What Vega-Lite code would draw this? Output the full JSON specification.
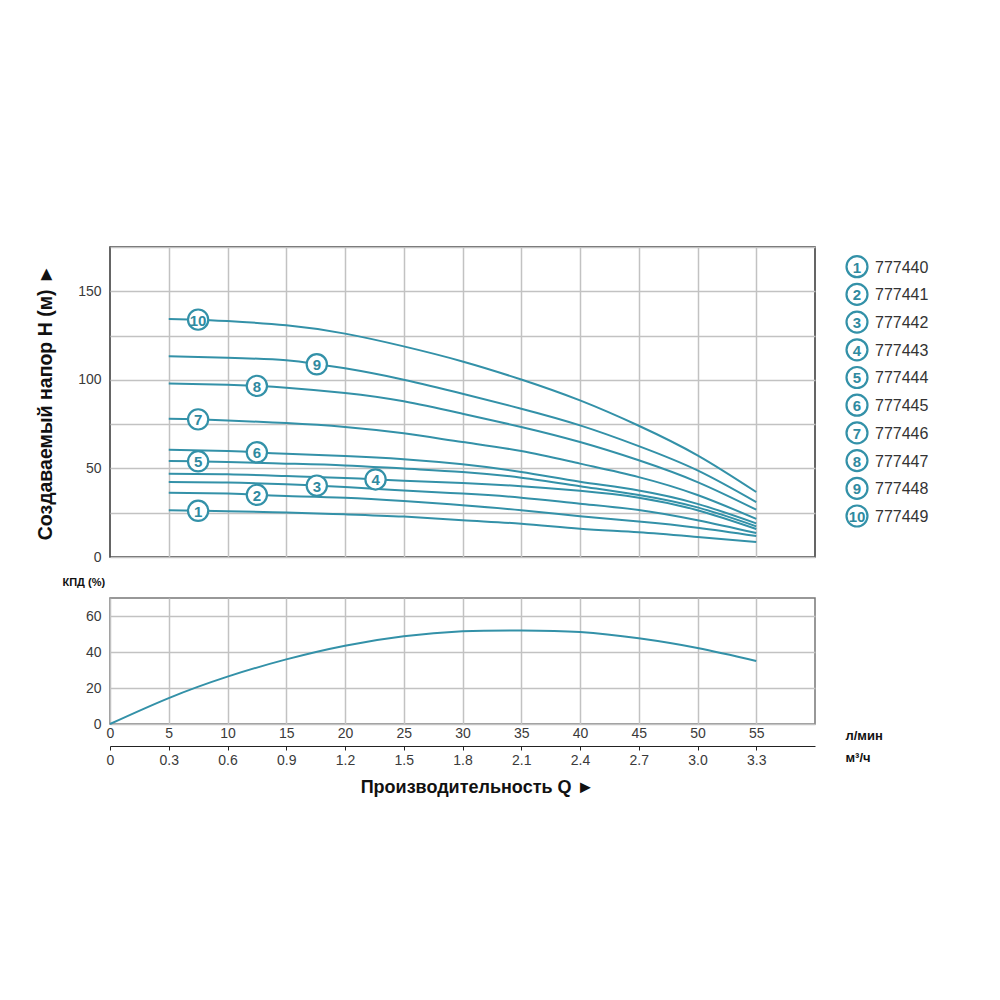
{
  "$schema": "https://vega.github.io/schema/vega-lite/v6.json",
  "padding": {"left": 34, "top": 246, "right": 5, "bottom": 5},
  "background": "white",
  "config": {
    "font": "Liberation Sans",
    "axis": {"labelColor": "#3a3a3a", "labelFontSize": 14, "titleColor": "#111", "gridColor": "#c2c2c2", "gridWidth": 1.5, "labelFlush": false},
    "line": {"color": "#3391a8", "strokeWidth": 2}
  },
  "datasets": {
    "curves": [
      {"s": 10, "Q": 5, "H": 134.3}, {"s": 10, "Q": 7.5, "H": 134.0, "tag": "10"}, {"s": 10, "Q": 10, "H": 133.2}, {"s": 10, "Q": 15, "H": 130.8}, {"s": 10, "Q": 20, "H": 126.1}, {"s": 10, "Q": 25, "H": 118.9}, {"s": 10, "Q": 30, "H": 110.4}, {"s": 10, "Q": 35, "H": 100.2}, {"s": 10, "Q": 40, "H": 88.4}, {"s": 10, "Q": 45, "H": 74.1}, {"s": 10, "Q": 50, "H": 57.4}, {"s": 10, "Q": 55, "H": 36.7},
      {"s": 9, "Q": 5, "H": 113.3}, {"s": 9, "Q": 10, "H": 112.5}, {"s": 9, "Q": 15, "H": 111.0}, {"s": 9, "Q": 17.6, "H": 108.8, "tag": "9"}, {"s": 9, "Q": 20, "H": 106.5}, {"s": 9, "Q": 25, "H": 100.1}, {"s": 9, "Q": 30, "H": 92.2}, {"s": 9, "Q": 35, "H": 83.7}, {"s": 9, "Q": 40, "H": 74.3}, {"s": 9, "Q": 45, "H": 62.6}, {"s": 9, "Q": 50, "H": 48.9}, {"s": 9, "Q": 55, "H": 31.0},
      {"s": 8, "Q": 5, "H": 97.9}, {"s": 8, "Q": 10, "H": 97.3}, {"s": 8, "Q": 12.5, "H": 96.6, "tag": "8"}, {"s": 8, "Q": 15, "H": 95.6}, {"s": 8, "Q": 20, "H": 92.6}, {"s": 8, "Q": 25, "H": 87.9}, {"s": 8, "Q": 30, "H": 80.9}, {"s": 8, "Q": 35, "H": 73.4}, {"s": 8, "Q": 40, "H": 64.9}, {"s": 8, "Q": 45, "H": 54.6}, {"s": 8, "Q": 50, "H": 42.3}, {"s": 8, "Q": 55, "H": 26.7},
      {"s": 7, "Q": 5, "H": 78.1}, {"s": 7, "Q": 7.5, "H": 77.7, "tag": "7"}, {"s": 7, "Q": 10, "H": 77.1}, {"s": 7, "Q": 15, "H": 75.6}, {"s": 7, "Q": 20, "H": 73.4}, {"s": 7, "Q": 25, "H": 69.8}, {"s": 7, "Q": 30, "H": 64.9}, {"s": 7, "Q": 35, "H": 59.8}, {"s": 7, "Q": 40, "H": 52.7}, {"s": 7, "Q": 45, "H": 45.1}, {"s": 7, "Q": 50, "H": 35.0}, {"s": 7, "Q": 55, "H": 21.5},
      {"s": 6, "Q": 5, "H": 60.6}, {"s": 6, "Q": 10, "H": 59.8}, {"s": 6, "Q": 12.5, "H": 59.1, "tag": "6"}, {"s": 6, "Q": 15, "H": 58.3}, {"s": 6, "Q": 20, "H": 57.0}, {"s": 6, "Q": 25, "H": 55.2}, {"s": 6, "Q": 30, "H": 52.3}, {"s": 6, "Q": 35, "H": 48.0}, {"s": 6, "Q": 40, "H": 42.5}, {"s": 6, "Q": 45, "H": 37.5}, {"s": 6, "Q": 50, "H": 30.0}, {"s": 6, "Q": 55, "H": 19.0},
      {"s": 5, "Q": 5, "H": 54.2}, {"s": 5, "Q": 7.5, "H": 54.0, "tag": "5"}, {"s": 5, "Q": 10, "H": 53.6}, {"s": 5, "Q": 15, "H": 52.7}, {"s": 5, "Q": 20, "H": 51.7}, {"s": 5, "Q": 25, "H": 49.9}, {"s": 5, "Q": 30, "H": 48.0}, {"s": 5, "Q": 35, "H": 44.8}, {"s": 5, "Q": 40, "H": 40.0}, {"s": 5, "Q": 45, "H": 35.0}, {"s": 5, "Q": 50, "H": 28.0}, {"s": 5, "Q": 55, "H": 17.3},
      {"s": 4, "Q": 5, "H": 47.0}, {"s": 4, "Q": 10, "H": 46.7}, {"s": 4, "Q": 15, "H": 45.7}, {"s": 4, "Q": 20, "H": 44.6}, {"s": 4, "Q": 22.6, "H": 43.8, "tag": "4"}, {"s": 4, "Q": 25, "H": 43.1}, {"s": 4, "Q": 30, "H": 41.8}, {"s": 4, "Q": 35, "H": 40.0}, {"s": 4, "Q": 40, "H": 37.4}, {"s": 4, "Q": 45, "H": 33.5}, {"s": 4, "Q": 50, "H": 26.4}, {"s": 4, "Q": 55, "H": 15.8},
      {"s": 3, "Q": 5, "H": 42.3}, {"s": 3, "Q": 10, "H": 42.0}, {"s": 3, "Q": 15, "H": 41.0}, {"s": 3, "Q": 17.6, "H": 40.3, "tag": "3"}, {"s": 3, "Q": 20, "H": 39.5}, {"s": 3, "Q": 25, "H": 37.6}, {"s": 3, "Q": 30, "H": 35.8}, {"s": 3, "Q": 35, "H": 33.5}, {"s": 3, "Q": 40, "H": 30.1}, {"s": 3, "Q": 45, "H": 26.5}, {"s": 3, "Q": 50, "H": 20.7}, {"s": 3, "Q": 55, "H": 13.5},
      {"s": 2, "Q": 5, "H": 36.3}, {"s": 2, "Q": 10, "H": 35.8}, {"s": 2, "Q": 12.5, "H": 35.1, "tag": "2"}, {"s": 2, "Q": 15, "H": 34.4}, {"s": 2, "Q": 20, "H": 33.5}, {"s": 2, "Q": 25, "H": 31.6}, {"s": 2, "Q": 30, "H": 29.2}, {"s": 2, "Q": 35, "H": 26.4}, {"s": 2, "Q": 40, "H": 23.0}, {"s": 2, "Q": 45, "H": 20.0}, {"s": 2, "Q": 50, "H": 16.5}, {"s": 2, "Q": 55, "H": 11.8},
      {"s": 1, "Q": 5, "H": 26.4}, {"s": 1, "Q": 7.5, "H": 26.1, "tag": "1"}, {"s": 1, "Q": 10, "H": 25.8}, {"s": 1, "Q": 15, "H": 25.1}, {"s": 1, "Q": 20, "H": 24.1}, {"s": 1, "Q": 25, "H": 22.8}, {"s": 1, "Q": 30, "H": 20.7}, {"s": 1, "Q": 35, "H": 18.8}, {"s": 1, "Q": 40, "H": 16.0}, {"s": 1, "Q": 45, "H": 14.0}, {"s": 1, "Q": 50, "H": 11.3}, {"s": 1, "Q": 55, "H": 8.5}
    ],
    "efficiency": [
      {"Q": 0, "eff": 0}, {"Q": 5, "eff": 14.4}, {"Q": 10, "eff": 26.3}, {"Q": 15, "eff": 35.9}, {"Q": 20, "eff": 43.5}, {"Q": 25, "eff": 48.7},
      {"Q": 30, "eff": 51.5}, {"Q": 35, "eff": 52.0}, {"Q": 40, "eff": 51.1}, {"Q": 45, "eff": 47.6}, {"Q": 50, "eff": 42.2}, {"Q": 55, "eff": 35.0}
    ],
    "models": [
      {"n": 1, "code": "777440"}, {"n": 2, "code": "777441"}, {"n": 3, "code": "777442"}, {"n": 4, "code": "777443"}, {"n": 5, "code": "777444"},
      {"n": 6, "code": "777445"}, {"n": 7, "code": "777446"}, {"n": 8, "code": "777447"}, {"n": 9, "code": "777448"}, {"n": 10, "code": "777449"}
    ]
  },
  "columns": 2,
  "bounds": "flush",
  "spacing": {"row": 41, "column": 30},
  "concat": [
    {
      "width": 705,
      "height": 310,
      "view": {"stroke": "#333", "strokeWidth": 1.5},
      "data": {"name": "curves"},
      "encoding": {
        "x": {
          "field": "Q", "type": "quantitative",
          "scale": {"domain": [0, 60], "nice": false},
          "axis": {"values": [5, 10, 15, 20, 25, 30, 35, 40, 45, 50, 55], "labels": false, "ticks": false, "domain": false, "title": null}
        },
        "y": {
          "field": "H", "type": "quantitative",
          "scale": {"domain": [0, 175], "nice": false},
          "axis": {
            "values": [0, 25, 50, 75, 100, 125, 150, 175],
            "labelExpr": "datum.value % 50 == 0 && datum.value < 175 ? datum.label : ''",
            "ticks": false, "domain": false, "labelPadding": 9,
            "title": "Создаваемый напор H (м) ►",
            "titleFontSize": 19.5, "titleFontWeight": "bold",
            "titleAngle": -90, "titleX": -65, "titleY": 155, "titleAlign": "center", "titleBaseline": "middle"
          }
        }
      },
      "layer": [
        {"mark": {"type": "line", "interpolate": "natural"}, "encoding": {"detail": {"field": "s", "type": "nominal"}}},
        {
          "transform": [{"filter": "isValid(datum.tag)"}],
          "mark": {"type": "point", "shape": "circle", "filled": true, "fill": "white", "stroke": "#3391a8", "strokeWidth": 2.2, "size": 410, "opacity": 1}
        },
        {
          "transform": [{"filter": "isValid(datum.tag)"}],
          "mark": {"type": "text", "color": "#2f8aa0", "fontSize": 15, "fontWeight": "bold", "align": "center", "baseline": "middle", "dy": 1},
          "encoding": {"text": {"field": "tag"}}
        }
      ]
    },
    {
      "width": 24,
      "height": 310,
      "view": {"stroke": null},
      "data": {"name": "models"},
      "encoding": {
        "y": {
          "field": "n", "type": "quantitative",
          "scale": {"domain": [0.289, 11.48], "reverse": true, "nice": false, "zero": false},
          "axis": null
        }
      },
      "layer": [
        {"mark": {"type": "point", "shape": "circle", "filled": true, "fill": "white", "stroke": "#3391a8", "strokeWidth": 2.2, "size": 440, "opacity": 1}},
        {
          "mark": {"type": "text", "color": "#2f8aa0", "fontSize": 15, "fontWeight": "bold", "align": "center", "baseline": "middle", "dy": 1},
          "encoding": {"text": {"field": "n", "type": "quantitative"}}
        },
        {
          "mark": {"type": "text", "color": "#333", "fontSize": 16, "align": "left", "baseline": "middle", "dx": 18, "dy": 1},
          "encoding": {"text": {"field": "code"}}
        }
      ]
    },
    {
      "width": 705,
      "height": 126,
      "view": {"stroke": "#777", "strokeWidth": 1.5},
      "data": {"name": "efficiency"},
      "resolve": {"axis": {"x": "independent"}},
      "layer": [
        {
          "mark": {"type": "line", "interpolate": "natural"},
          "encoding": {
            "x": {
              "field": "Q", "type": "quantitative",
              "scale": {"domain": [0, 60], "nice": false},
              "axis": {
                "orient": "bottom", "offset": 0,
                "values": [0, 5, 10, 15, 20, 25, 30, 35, 40, 45, 50, 55],
                "ticks": false, "domain": false, "labelPadding": 2,
                "title": ["л/мин", "м³/ч"], "titleFontSize": 13, "titleFontWeight": "bold", "titleLineHeight": 22,
                "titleX": 735, "titleY": 5, "titleAlign": "left", "titleBaseline": "top", "titleAngle": 0
              }
            },
            "y": {
              "field": "eff", "type": "quantitative",
              "scale": {"domain": [0, 70], "nice": false},
              "axis": {
                "values": [0, 10, 20, 30, 40, 50, 60, 70],
                "labelExpr": "datum.value % 20 == 0 && datum.value < 70 ? datum.label : ''",
                "ticks": false, "domain": false, "labelPadding": 9,
                "title": "КПД (%)", "titleFontSize": 11, "titleFontWeight": "bold",
                "titleAngle": 0, "titleX": -48, "titleY": -16, "titleAlign": "left", "titleBaseline": "middle"
              }
            }
          }
        },
        {
          "mark": {"type": "line", "strokeOpacity": 0},
          "encoding": {
            "x": {
              "field": "Q", "type": "quantitative",
              "scale": {"domain": [0, 60], "nice": false},
              "axis": {
                "orient": "bottom", "offset": 22, "grid": false,
                "values": [0, 5, 10, 15, 20, 25, 30, 35, 40, 45, 50, 55],
                "labelExpr": "datum.value == 0 ? '0' : format(datum.value * 0.06, '.1f')",
                "domain": true, "domainColor": "#222", "domainWidth": 1,
                "ticks": true, "tickColor": "#222", "tickSize": 4, "labelPadding": 3,
                "title": "Производительность Q ►", "titleFontSize": 18, "titleFontWeight": "bold",
                "titleX": 367, "titleY": 41, "titleAlign": "center", "titleBaseline": "middle"
              }
            },
            "y": {"field": "eff", "type": "quantitative"}
          }
        }
      ]
    }
  ]
}
